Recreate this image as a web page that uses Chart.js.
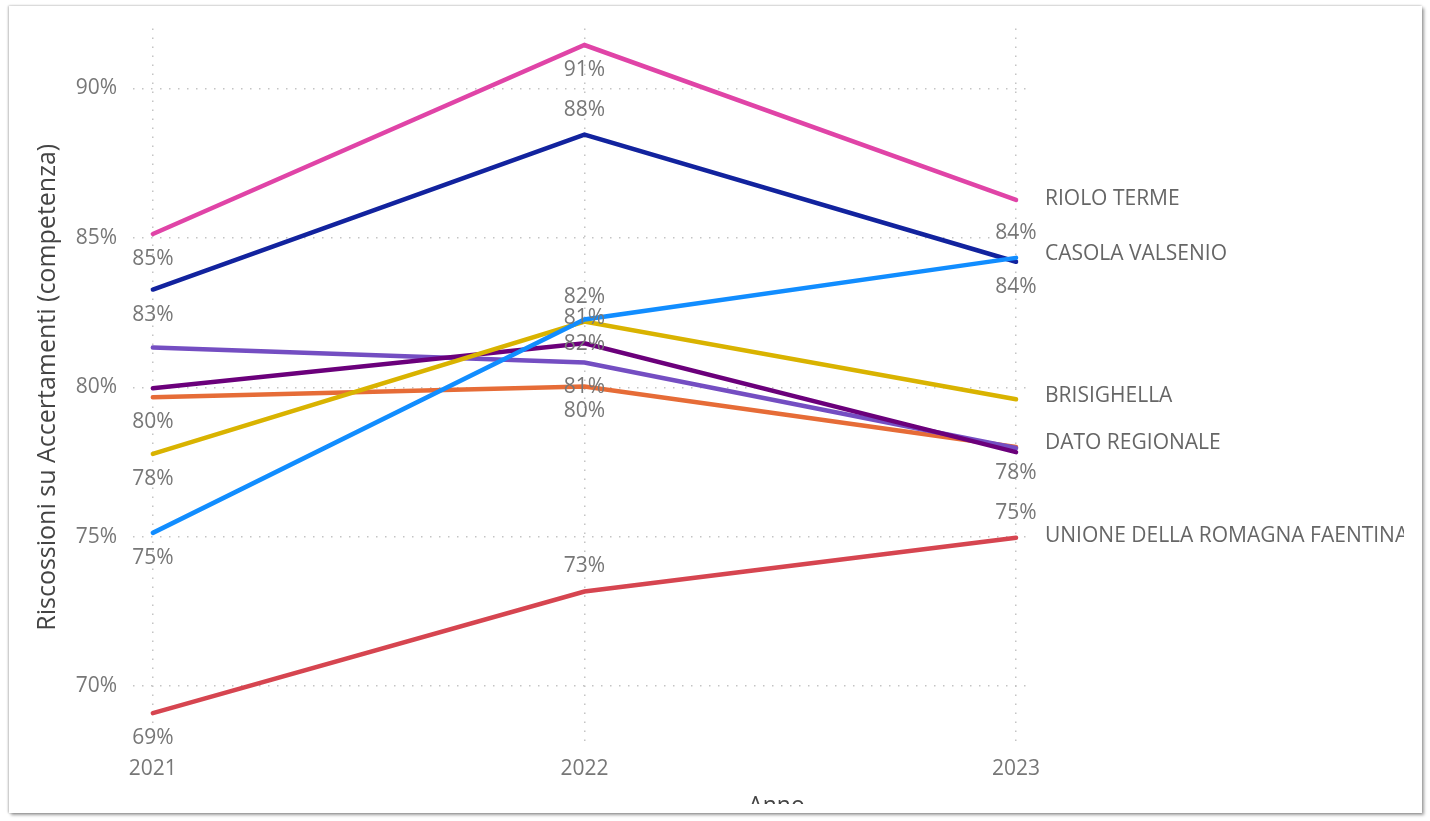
<!DOCTYPE html>
<html>
<head>
<meta charset="utf-8">
<script src="https://cdn.jsdelivr.net/npm/chart.js@4/dist/chart.umd.min.js"></script>
<style>
  html, body { margin: 0; padding: 0; background: #fff; }
  #frame {
    position: absolute; left: 9px; top: 6px; width: 1413px; height: 807px;
    background: #fff;
    box-shadow: 2px 2px 3px rgba(0,0,0,0.38), -1px 0 2px rgba(0,0,0,0.22), 0 -1px 2px rgba(0,0,0,0.08);
  }
  #chart {
    position: absolute; left: 0; top: 0;
    clip-path: inset(6px 26px 17px 9px);
  }
</style>
</head>
<body>
<div id="frame"></div>
<canvas id="chart" width="1430" height="821"></canvas>
<script>
const YEARS = [2021, 2022, 2023];
const Y_TICKS = [0.70, 0.75, 0.80, 0.85, 0.90];

const RIOLO_TERME     = [0.8513, 0.9145, 0.8627];
const CASOLA_VALSENIO = [0.8327, 0.8845, 0.8420];
const SERIE_AZZURRA   = [0.7513, 0.8227, 0.8433];
const SERIE_GIALLA    = [0.7777, 0.8220, 0.7960];
const SERIE_VIOLA_SC  = [0.7997, 0.8147, 0.7783];
const DATO_REGIONALE  = [0.8133, 0.8083, 0.7797];
const SERIE_ARANCIO   = [0.7967, 0.8003, 0.7800];
const UNIONE_FAENTINA = [0.6910, 0.7317, 0.7497];

const FONT = "'Open Sans', 'Segoe UI', sans-serif";

// [name, data, color, label positions per point (a=above, b=below), name nudge]
const SERIES = [
  ["",                              SERIE_AZZURRA,   "#118DFF", ["b", "b", "a"], 0],
  ["RIOLO TERME",                   RIOLO_TERME,     "#E044A7", ["b", "b", null], -1],
  ["CASOLA VALSENIO",               CASOLA_VALSENIO, "#12239E", ["b", "a", "b"], -8],
  ["BRISIGHELLA",                   SERIE_GIALLA,    "#D9B300", ["b", "a", null], -3],
  ["",                              SERIE_VIOLA_SC,  "#6B007B", [null, "a", null], 0],
  ["DATO REGIONALE",                DATO_REGIONALE,  "#744EC2", [null, "b", "b"], -5],
  ["",                              SERIE_ARANCIO,   "#E66C37", ["b", "b", null], 0],
  ["UNIONE DELLA ROMAGNA FAENTINA", UNIONE_FAENTINA, "#D64550", ["b", "a", "a"], -2],
];

const pctText = v => Math.round(v * 100) + "%";

const labelsPlugin = {
  id: "labels",
  afterDatasetsDraw(chart) {
    const ctx = chart.ctx;
    const area = chart.chartArea;
    ctx.save();
    ctx.font = "21px " + FONT;
    ctx.textBaseline = "middle";
    chart.data.datasets.forEach((ds, di) => {
      const meta = chart.getDatasetMeta(di);
      ctx.fillStyle = "#777";
      ctx.textAlign = "center";
      meta.data.forEach((pt, i) => {
        const pos = ds.labelPos[i];
        if (!pos) return;
        const dy = pos === "a" ? -25 : 25;
        ctx.fillText(pctText(ds.data[i].y), pt.x, pt.y + dy);
      });
      if (ds.label) {
        const last = meta.data[meta.data.length - 1];
        ctx.fillStyle = "#666";
        ctx.textAlign = "left";
        ctx.fillText(ds.label, area.right + 13, last.y + ds.nameNudge);
      }
    });
    // x axis title, centred over plot + label area, clipped by the frame
    ctx.fillStyle = "#444";
    ctx.textAlign = "center";
    ctx.font = "23px " + FONT;
    ctx.fillText("Anno", (area.left + 1420) / 2, 806);
    ctx.restore();
  }
};

const grid = { color: "#c4c4c4", lineWidth: 1.5, drawTicks: false };
const border = { display: false, dash: [1.5, 7.5] };

new Chart(document.getElementById("chart"), {
  type: "line",
  data: {
    datasets: SERIES.map(([name, vals, color, labelPos, nudge]) => ({
      label: name,
      data: vals.map((v, i) => ({ x: YEARS[i], y: v })),
      borderColor: color,
      backgroundColor: color,
      borderWidth: 4.5,
      pointRadius: 0,
      tension: 0,
      borderCapStyle: "round",
      labelPos: labelPos,
      nameNudge: nudge
    }))
  },
  options: {
    responsive: false,
    animation: false,
    layout: { padding: { left: 0, top: 26, right: 398, bottom: 0 } },
    plugins: { legend: { display: false }, tooltip: { enabled: false } },
    scales: {
      x: {
        type: "linear",
        min: 2020.954,
        max: 2023.037,
        afterFit: s => { s.height = 75; },
        afterBuildTicks: s => { s.ticks = YEARS.map(v => ({ value: v })); },
        border: border,
        grid: grid,
        ticks: {
          color: "#777", padding: 10,
          font: { family: FONT, size: 21 },
          callback: v => String(v)
        }
      },
      y: {
        min: 0.68,
        max: 0.92,
        afterFit: s => { s.width = 133; },
        afterBuildTicks: s => { s.ticks = Y_TICKS.map(v => ({ value: v })); },
        border: border,
        grid: grid,
        ticks: {
          color: "#777", padding: 16,
          font: { family: FONT, size: 21 },
          callback: v => pctText(v)
        },
        title: {
          display: true,
          text: "Riscossioni su Accertamenti (competenza)",
          color: "#444",
          font: { family: FONT, size: 25 },
          padding: { top: 33, bottom: 0 }
        }
      }
    }
  },
  plugins: [labelsPlugin]
});
</script>
</body>
</html>
